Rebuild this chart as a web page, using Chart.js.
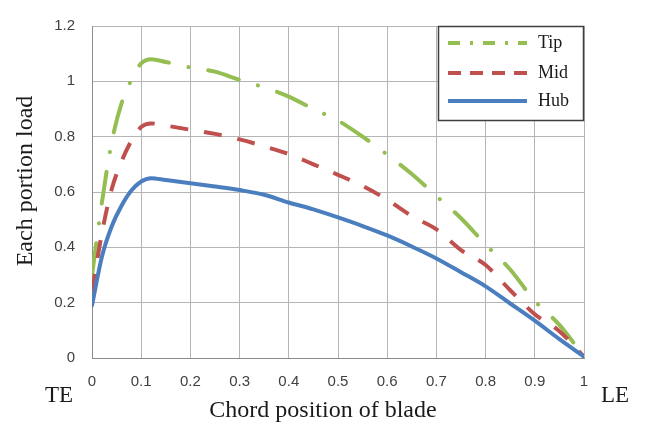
<!DOCTYPE html>
<html>
<head>
<meta charset="utf-8">
<script src="https://cdn.jsdelivr.net/npm/chart.js@4.4.1/dist/chart.umd.min.js"></script>
<style>
  html, body { margin: 0; padding: 0; background: #ffffff; }
  #wrap { width: 645px; height: 424px; }
</style>
</head>
<body>
<div id="wrap"><canvas id="c" width="645" height="424"></canvas></div>
<script>
// ---- data ----
const chordPositions = [0, 0.02, 0.04, 0.06, 0.08, 0.1, 0.12, 0.15, 0.2, 0.25, 0.3, 0.35, 0.4, 0.45, 0.5, 0.55, 0.6, 0.65, 0.7, 0.75, 0.8, 0.85, 0.9, 0.95, 1.0];
const tipLoad = [0.30, 0.56, 0.78, 0.92, 1.005, 1.065, 1.08, 1.07, 1.05, 1.035, 1.005, 0.978, 0.945, 0.90, 0.858, 0.80, 0.735, 0.665, 0.585, 0.505, 0.41, 0.32, 0.206, 0.12, 0.005];
const midLoad = [0.24, 0.45, 0.61, 0.71, 0.785, 0.835, 0.848, 0.84, 0.825, 0.81, 0.79, 0.765, 0.737, 0.70, 0.662, 0.622, 0.572, 0.513, 0.465, 0.39, 0.336, 0.245, 0.158, 0.097, 0.005];
const hubLoad = [0.19, 0.365, 0.475, 0.55, 0.605, 0.638, 0.65, 0.643, 0.632, 0.62, 0.607, 0.59, 0.562, 0.537, 0.508, 0.477, 0.443, 0.403, 0.36, 0.31, 0.259, 0.197, 0.135, 0.068, 0.005];
const seriesNames = ['Tip', 'Mid', 'Hub'];
const xTickLabels = ['0', '0.1', '0.2', '0.3', '0.4', '0.5', '0.6', '0.7', '0.8', '0.9', '1'];
const yTickLabels = ['0', '0.2', '0.4', '0.6', '0.8', '1', '1.2'];
const xAxisTitle = 'Chord position of blade';
const yAxisTitle = 'Each portion load';
const edgeLabels = ['TE', 'LE'];

// ---- styles ----
const GREEN = '#94BD52', RED = '#C0504D', BLUE = '#4A7EBE';
const SERIF = '"Liberation Serif", "Times New Roman", serif';
const SANS = '"Liberation Sans", Arial, sans-serif';
const legendDash = { Tip: [12, 10, 3, 10], Mid: [13, 9], Hub: [] };

function pts(ys) { return chordPositions.map((x, i) => ({ x: x, y: ys[i] })); }

const decor = {
  id: 'decor',
  afterDraw(chart) {
    const ctx = chart.ctx;
    const a = chart.chartArea;
    ctx.save();
    ctx.fillStyle = '#1a1a1a';
    // x axis title
    ctx.font = '24px ' + SERIF;
    ctx.textAlign = 'center';
    ctx.textBaseline = 'alphabetic';
    ctx.fillText(xAxisTitle, (a.left + a.right) / 2 - 15, a.bottom + 59);
    // TE / LE
    ctx.font = '23px ' + SERIF;
    ctx.fillText(edgeLabels[0], a.left - 33, a.bottom + 44);
    ctx.fillText(edgeLabels[1], a.right + 31, a.bottom + 44);
    // y axis title
    ctx.save();
    ctx.translate(26, (a.top + a.bottom) / 2 - 11);
    ctx.rotate(-Math.PI / 2);
    ctx.font = '24px ' + SERIF;
    ctx.textBaseline = 'middle';
    ctx.fillText(yAxisTitle, 0, 0);
    ctx.restore();

    // legend box
    const bw = 146, bh = 95;
    const bx = a.right - bw, by = a.top;
    ctx.fillStyle = '#ffffff';
    ctx.fillRect(bx, by, bw, bh);
    ctx.strokeStyle = '#3f3f3f';
    ctx.lineWidth = 1.5;
    ctx.strokeRect(bx + 0.5, by + 0.5, bw - 1, bh - 1);
    const rows = [17, 47, 75];
    chart.data.datasets.forEach((ds, i) => {
      const y = by + rows[i];
      ctx.beginPath();
      ctx.setLineDash(legendDash[ds.label] || []);
      ctx.strokeStyle = ds.borderColor;
      ctx.lineWidth = 4;
      ctx.lineCap = 'butt';
      ctx.moveTo(bx + 10, y);
      ctx.lineTo(bx + 89, y);
      ctx.stroke();
      ctx.setLineDash([]);
      ctx.fillStyle = '#1a1a1a';
      ctx.font = '18px ' + SERIF;
      ctx.textAlign = 'left';
      ctx.textBaseline = 'alphabetic';
      ctx.fillText(ds.label, bx + 100, y + 5);
    });
    ctx.restore();
  }
};

new Chart(document.getElementById('c'), {
  type: 'line',
  data: {
    datasets: [
      { label: seriesNames[0], data: pts(tipLoad), borderColor: GREEN, borderWidth: 4,
        borderDash: [32, 20, 0.1, 20], borderCapStyle: 'round', order: 2 },
      { label: seriesNames[1], data: pts(midLoad), borderColor: RED, borderWidth: 4,
        borderDash: [18, 16], borderCapStyle: 'butt', order: 1 },
      { label: seriesNames[2], data: pts(hubLoad), borderColor: BLUE, borderWidth: 4,
        borderCapStyle: 'round', order: 0 }
    ]
  },
  options: {
    responsive: false,
    animation: false,
    devicePixelRatio: 1,
    events: [],
    layout: { padding: { left: 0, top: 20, right: 61, bottom: 0 } },
    elements: {
      point: { radius: 0 },
      line: { cubicInterpolationMode: 'monotone', fill: false }
    },
    plugins: { legend: { display: false }, tooltip: { enabled: false }, title: { display: false } },
    scales: {
      x: {
        type: 'linear', min: 0, max: 1,
        grid: { color: '#b5b5b5', lineWidth: 1, drawTicks: false },
        border: { color: '#8c8c8c', width: 1 },
        ticks: {
          stepSize: 0.1, padding: 15, color: '#404040',
          font: { family: SANS, size: 15 },
          maxRotation: 0, autoSkip: false,
          callback: (v, i) => xTickLabels[i] !== undefined ? xTickLabels[i] : String(v)
        },
        afterFit: (s) => { s.height = 66; }
      },
      y: {
        type: 'linear', min: 0, max: 1.2,
        grid: { color: '#b5b5b5', lineWidth: 1, drawTicks: false },
        border: { color: '#8c8c8c', width: 1 },
        ticks: {
          stepSize: 0.2, padding: 17, color: '#404040',
          font: { family: SANS, size: 15 },
          callback: (v, i) => yTickLabels[i] !== undefined ? yTickLabels[i] : String(v)
        },
        afterFit: (s) => { s.width = 92; }
      }
    }
  },
  plugins: [decor]
});
</script>
</body>
</html>
